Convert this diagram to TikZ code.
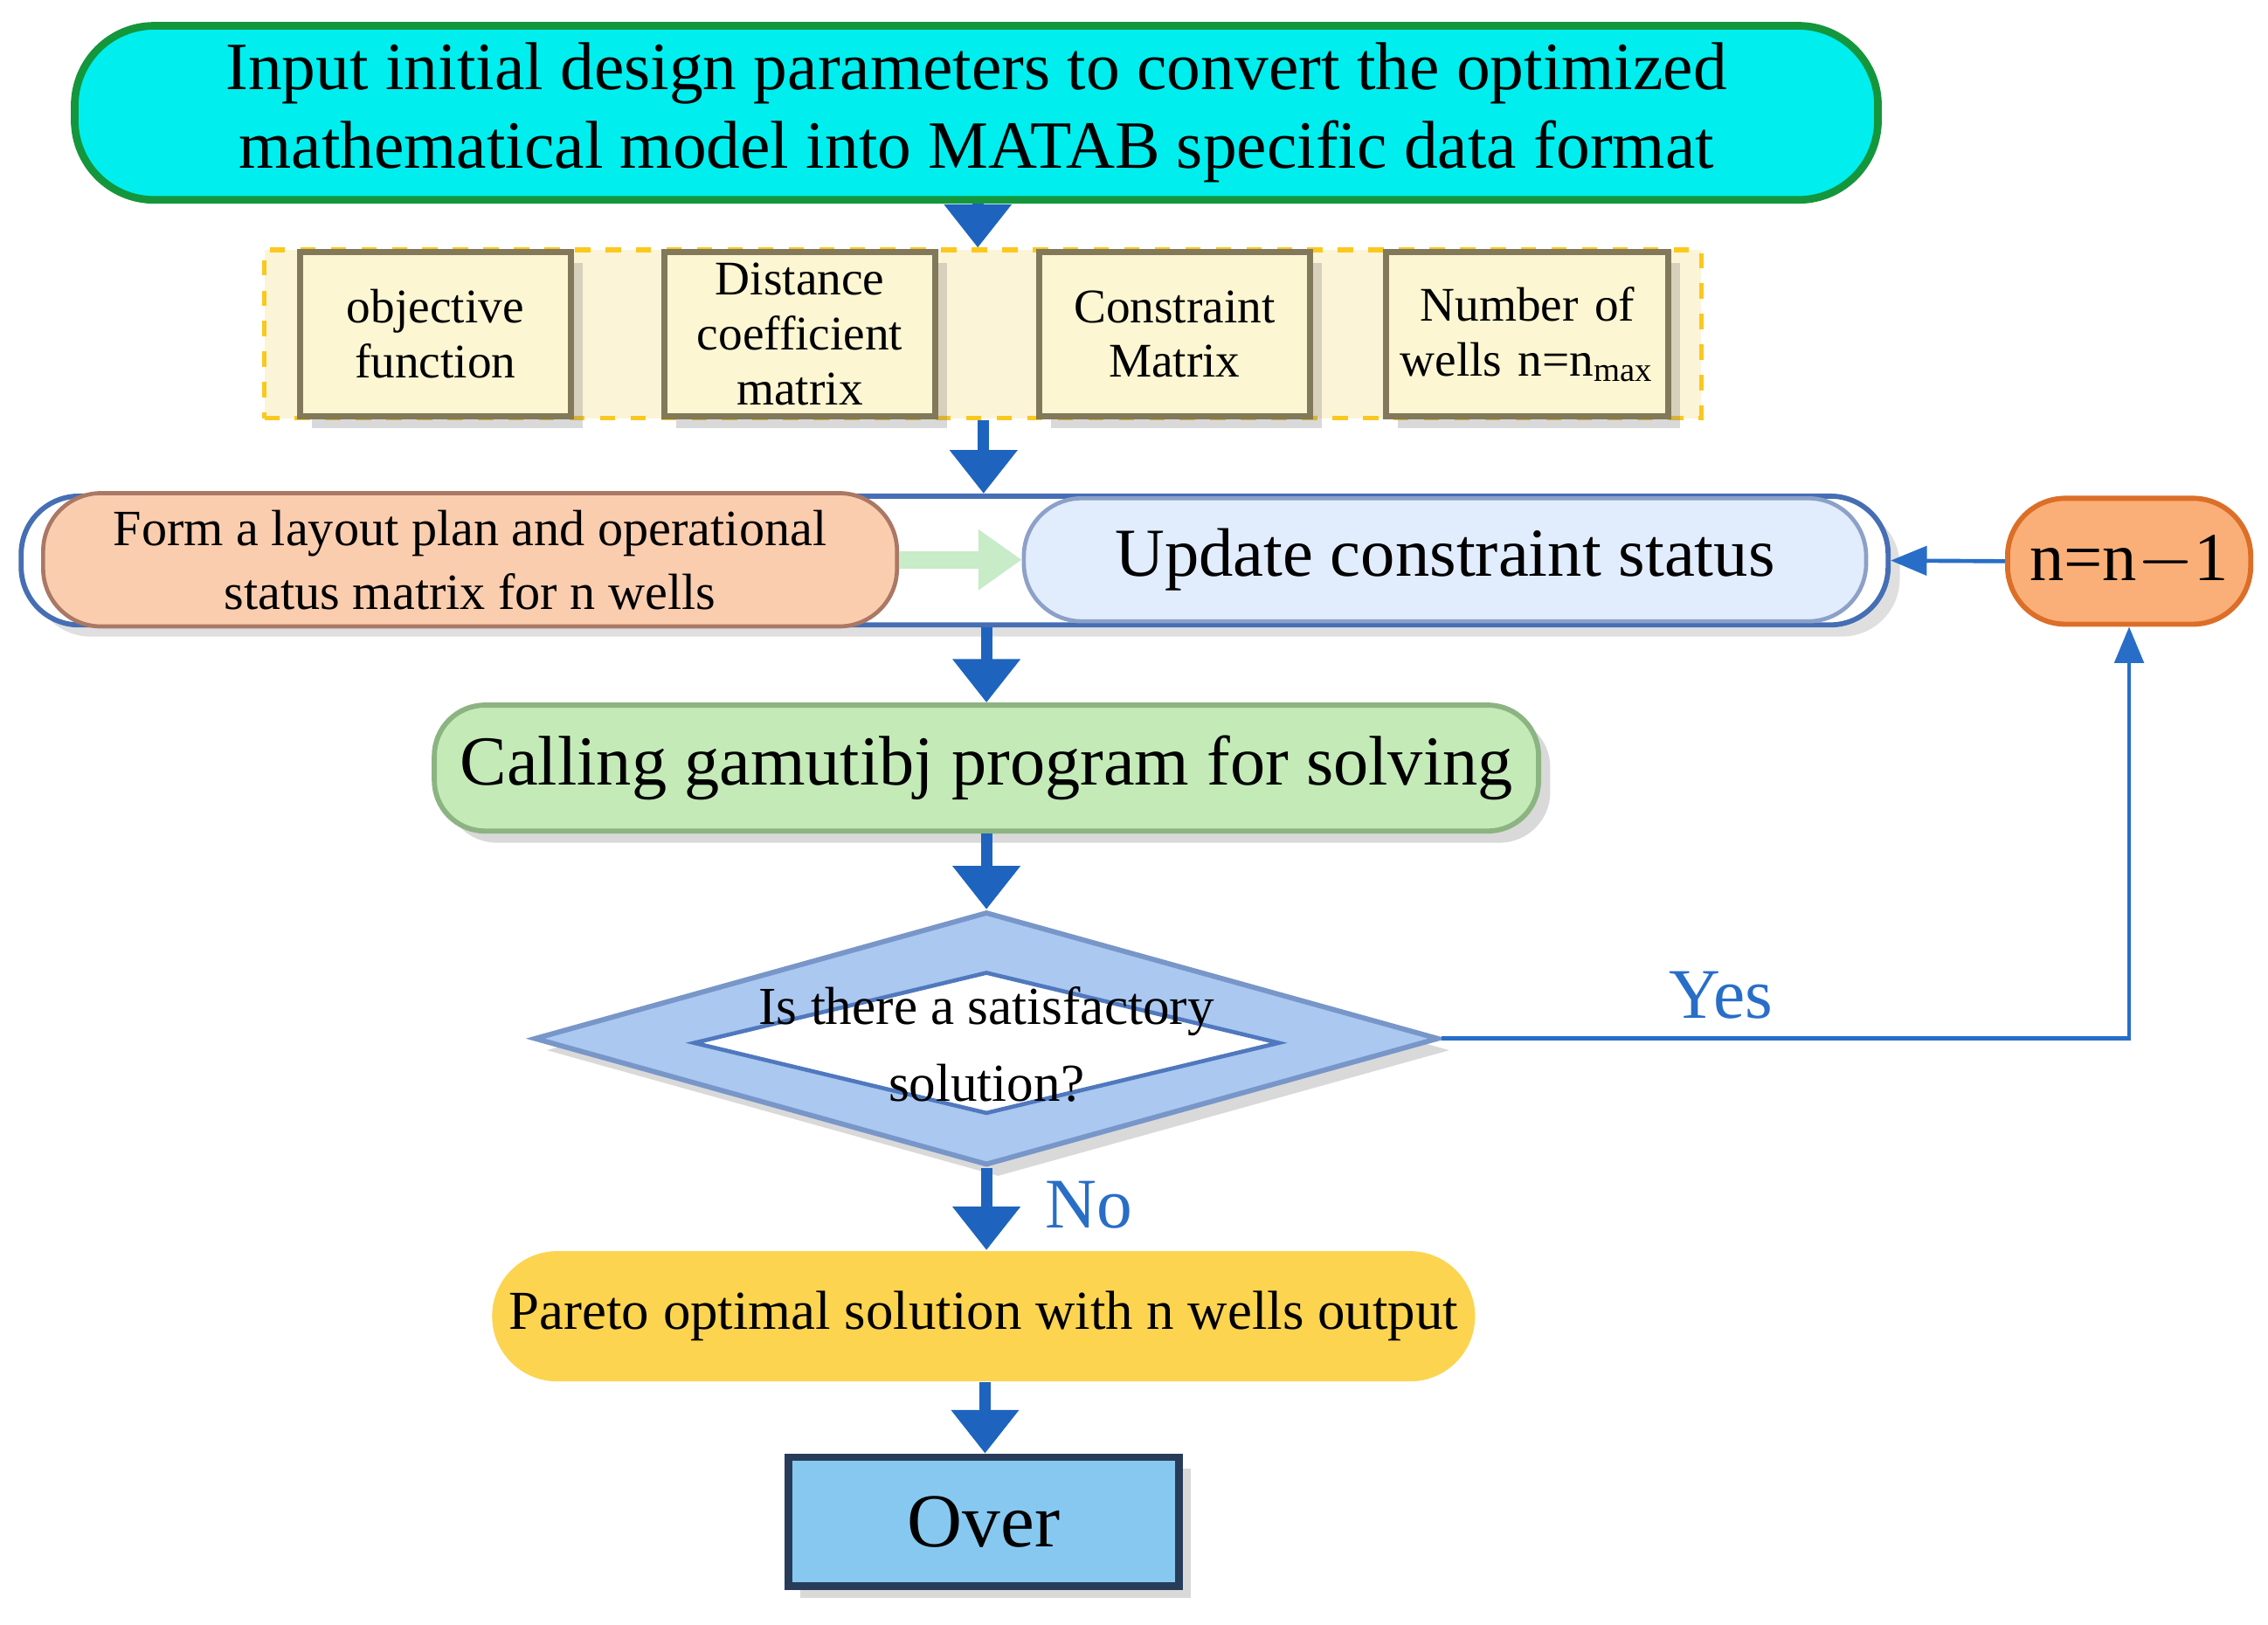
\documentclass[tikz,border=0pt]{standalone}
\usepackage{fontspec}
\setmainfont{Liberation Serif}
\usetikzlibrary{arrows.meta,shapes.geometric,shadows}
\definecolor{arrblue}{RGB}{30,100,190}
\definecolor{lineblue}{RGB}{40,110,200}
\definecolor{subdraw}{RGB}{130,120,90}
\definecolor{subfill}{RGB}{252,246,210}
\definecolor{topdraw}{RGB}{20,150,60}
\definecolor{topfill}{RGB}{0,238,238}
\definecolor{dashdraw}{RGB}{250,200,30}
\definecolor{dashfill}{RGB}{252,244,215}
\definecolor{contdraw}{RGB}{70,110,180}
\definecolor{formdraw}{RGB}{170,120,100}
\definecolor{formfill}{RGB}{250,205,175}
\definecolor{upddraw}{RGB}{140,160,200}
\definecolor{updfill}{RGB}{225,236,252}
\definecolor{hollow}{RGB}{200,235,200}
\definecolor{nndraw}{RGB}{220,110,40}
\definecolor{nnfill}{RGB}{250,175,120}
\definecolor{calldraw}{RGB}{140,180,130}
\definecolor{callfill}{RGB}{196,234,184}
\definecolor{diadraw}{RGB}{120,150,200}
\definecolor{diafill}{RGB}{170,200,240}
\definecolor{dindraw}{RGB}{80,120,190}
\definecolor{parfill}{RGB}{252,212,80}
\definecolor{overdraw}{RGB}{40,60,90}
\definecolor{overfill}{RGB}{135,200,240}
\begin{document}
\begin{tikzpicture}[x=0.01cm,y=-0.01cm,
  bigarr/.style={arrblue,line width=0.08cm,-{Triangle[length=0.3cm,width=0.45cm]}},
  thin/.style={lineblue,line width=0.8pt,-{Triangle[length=0.25cm,width=0.2cm]}},
  sub/.style={draw=subdraw,line width=1.2pt,fill=subfill,
    text width=1.8cm,minimum width=1.86cm,minimum height=1.14cm,align=center,font=\fontsize{9.5}{10.8}\selectfont,inner sep=1pt,
    drop shadow={opacity=0.3}}]
\useasboundingbox (0,0) rectangle (1568,1123);
% top
\node[draw=topdraw,line width=1.5pt,fill=topfill,
  rounded corners=0.55cm,minimum width=12.46cm,minimum height=1.15cm,align=center,
  font=\fontsize{13.3}{15.5}\selectfont] (top) at (675,78)
  {Input initial design parameters to convert the optimized\\mathematical model into MATAB specific data format};
% dashed box
\node[draw=dashdraw,dashed,line width=1pt,fill=dashfill,
  minimum width=9.93cm,minimum height=1.16cm] (dash) at (679.5,231) {};
\node[sub] (s1) at (301,231) {objective\\function};
\node[sub] (s2) at (553,231) {Distance\\coefficient\\matrix};
\node[sub] (s3) at (812,231) {Constraint\\Matrix};
\node[sub,minimum width=1.92cm,text width=1.88cm] (s4) at (1056,231) {Number of\\wells n=n\textsubscript{max}};
% container
\node[draw=contdraw,line width=1pt,fill=white,rounded corners=0.4cm,
  minimum width=12.9cm,minimum height=0.89cm,drop shadow={opacity=0.25}] (cont) at (660,387.5) {};
\node[draw=formdraw,line width=0.8pt,rounded corners=0.4cm,
  fill=formfill,minimum width=5.9cm,minimum height=0.85cm,align=center,
  font=\fontsize{10}{12.5}\selectfont] (form) at (325,387)
  {Form a layout plan and operational\\status matrix for n wells};
\node[draw=upddraw,line width=0.8pt,rounded corners=0.4cm,
  fill=updfill,minimum width=5.82cm,minimum height=0.85cm,
  font=\fontsize{13.5}{16}\selectfont] (upd) at (999,387) {Update constraint status};
\draw[hollow,line width=0.12cm,-{Triangle[length=0.3cm,width=0.4cm]}] (form.east) -- (upd.west);
\node[draw=nndraw,line width=1pt,fill=nnfill,
  rounded corners=0.4cm,minimum width=1.68cm,minimum height=0.87cm,inner sep=1pt,font=\fontsize{13.5}{16}\selectfont] (nn) at (1472,388) {n=n$-$1};
% green
\node[draw=calldraw,line width=1pt,fill=callfill,
  rounded corners=0.35cm,minimum width=7.63cm,minimum height=0.87cm,font=\fontsize{13.8}{16}\selectfont,
  drop shadow={opacity=0.3}] (call) at (682,531) {Calling gamutibj program for solving};
% diamond
\node[diamond,draw=diadraw,line width=1pt,fill=diafill,
  minimum width=6.25cm,minimum height=1.75cm,aspect=3.6,inner sep=0pt,drop shadow={opacity=0.3}] (dia) at (682,718) {};
\node[diamond,draw=dindraw,line width=0.8pt,fill=white,minimum width=4.05cm,
  minimum height=0.98cm,aspect=4.1,inner sep=0pt] (din) at (682,721) {};
\node[align=center,font=\fontsize{10.5}{15}\selectfont] (dtxt) at (682,722) {Is there a satisfactory\\solution?};
% pareto
\node[fill=parfill,rounded corners=0.45cm,minimum width=6.46cm,minimum height=0.9cm,
  font=\fontsize{10.8}{13}\selectfont] (par) at (680,910) {Pareto optimal solution with n wells output};
% over
\node[draw=overdraw,line width=1.5pt,fill=overfill,
  minimum width=2.7cm,minimum height=0.89cm,font=\fontsize{15}{17}\selectfont,
  drop shadow={opacity=0.3}] (over) at (680,1052) {Over};
% arrows
\draw[bigarr] (top.south -| 676,0) -- (dash.north -| 676,0);
\draw[bigarr] (dash.south -| 680,0) -- (cont.north -| 680,0);
\draw[bigarr] (cont.south -| 682,0) -- (call.north -| 682,0);
\draw[bigarr] (call.south -| 682,0) -- (dia.north);
\draw[bigarr] (dia.south) -- (par.north -| 682,0);
\draw[bigarr] (par.south -| 681,0) -- (over.north -| 681,0);
\draw[thin] (nn.west) -- (cont.east);
\coordinate (c1) at (1472,718);
\draw[thin] (dia.east) -- (c1) -- (nn.south);
\node[font=\fontsize{14}{16}\selectfont,text=lineblue] (yes) at (1190,688) {Yes};
\node[font=\fontsize{14}{16}\selectfont,text=lineblue] (no) at (753,833) {No};
\end{tikzpicture}
\end{document}
